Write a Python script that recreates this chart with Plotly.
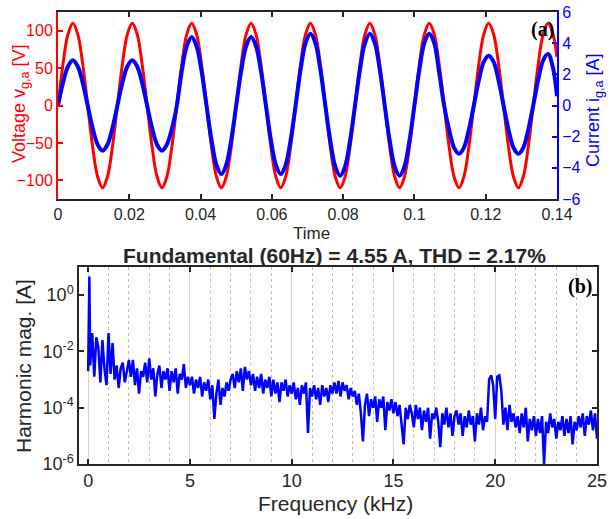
import plotly.graph_objects as go

# ---------------- panel (a): grid voltage and current vs time ----------------
# samples every 1/720 s (30 deg of the 60 Hz cycle), last sample at 0.14 s
time_s = [i / 720 for i in range(101)] + [0.14]

voltage_v = [
    0, 55, 95, 110, 95, 55, 0, -55, -95, -110, -95, -55,
    0, 55, 95, 110, 95, 55, 0, -55, -95, -110, -95, -55,
    0, 55, 95, 110, 95, 55, 0, -55, -95, -110, -95, -55,
    0, 55, 95, 110, 95, 55, 0, -55, -95, -110, -95, -55,
    0, 55, 95, 110, 95, 55, 0, -55, -95, -110, -95, -55,
    0, 55, 95, 110, 95, 55, 0, -55, -95, -110, -95, -55,
    0, 55, 95, 110, 95, 55, 0, -55, -95, -110, -95, -55,
    0, 55, 95, 110, 95, 55, 0, -55, -95, -110, -95, -55,
    0, 55, 95, 110, 95, 65,
]

current_a = [
    0, 1.45, 2.5, 2.9, 2.5, 1.45, 0, -1.45, -2.5, -2.9, -2.5, -1.45,
    0, 1.45, 2.5, 2.9, 2.5, 1.45, 0, -1.45, -2.5, -2.9, -2.5, -1.5,
    0, 2.2, 3.8, 4.4, 3.8, 2.2, 0, -2.2, -3.8, -4.4, -3.8, -2.2,
    0, 2.2, 3.8, 4.4, 3.8, 2.2, 0, -2.2, -3.8, -4.4, -3.8, -2.2,
    0, 2.3, 4.0, 4.6, 4.0, 2.3, 0, -2.25, -3.9, -4.5, -3.9, -2.25,
    0, 2.3, 4.0, 4.6, 4.0, 2.3, 0, -2.25, -3.9, -4.5, -3.9, -2.25,
    0, 2.3, 4.0, 4.6, 4.0, 2.1, 0, -1.55, -2.7, -3.1, -2.7, -1.55,
    0, 1.6, 2.8, 3.2, 2.8, 1.6, 0, -1.55, -2.7, -3.1, -2.7, -1.55,
    0, 1.65, 2.9, 3.3, 2.4, 0.6,
]

time_ticks = [0, 0.02, 0.04, 0.06, 0.08, 0.1, 0.12, 0.14]
time_ticktext = ["0", "0.02", "0.04", "0.06", "0.08", "0.1", "0.12", "0.14"]
voltage_ticks = [-100, -50, 0, 50, 100]
current_ticks = [-6, -4, -2, 0, 2, 4, 6]

# ---------------- panel (b): harmonic spectrum ----------------
freq_khz = [0.0, 0.06] + [round(0.1 * i, 1) for i in range(1, 251)]
mag_log10 = [-2.7, 0.66] + [
    # 0.1 - 1.0 kHz
    -2.5, -1.35, -2.9, -1.5, -1.85, -3.1, -1.6, -2.6, -3.2, -1.35,
    # 1.1 - 2.0
    -2.8, -1.7, -3.0, -2.5, -3.3, -2.6, -2.4, -3.1, -2.7, -2.3,
    # 2.1 - 3.0
    -2.9, -2.3, -3.2, -2.6, -3.5, -2.7, -2.9, -2.4, -3.1, -2.25,
    # 3.1 - 4.0
    -3.0, -2.6, -3.6, -2.8, -2.5, -3.3, -2.7, -3.0, -2.6, -3.4,
    # 4.1 - 5.0
    -2.7, -3.1, -2.6, -3.5, -2.8, -3.0, -2.45, -3.3, -2.9, -3.2,
    # 5.1 - 6.0
    -2.9, -3.5, -3.0, -3.3, -2.9, -3.6, -3.1, -3.4, -3.0, -3.7,
    # 6.1 - 7.0
    -3.2, -4.4, -3.5, -3.0, -3.9, -3.3, -3.6, -3.1, -3.4, -3.0,
    # 7.1 - 8.0
    -2.8, -3.3, -2.7, -3.1, -2.6, -3.4, -2.55, -3.0, -2.7, -3.2,
    # 8.1 - 9.0
    -2.8, -3.4, -2.9, -3.3, -2.8, -3.5, -3.0, -3.3, -2.9, -3.6,
    # 9.1 - 10.0
    -3.0, -3.5, -3.1, -3.8, -3.1, -3.4, -3.0, -3.6, -3.2, -3.5,
    # 10.1 - 11.0
    -3.1, -3.7, -3.3, -3.9, -3.2, -3.5, -3.1, -4.9, -3.3, -3.6,
    # 11.1 - 12.0
    -3.2, -3.7, -3.3, -3.9, -3.2, -3.6, -3.3, -3.8, -3.2, -3.5,
    # 12.1 - 13.0
    -3.1, -3.5, -3.05, -3.6, -3.1, -3.4, -3.2, -3.7, -3.3, -3.6,
    # 13.1 - 14.0
    -3.4, -3.9, -3.5, -4.2, -5.2, -3.9, -3.5, -4.3, -3.7, -4.0,
    # 14.1 - 15.0
    -3.6, -4.5, -3.7, -4.0, -3.6, -4.8, -3.8, -4.1, -3.7, -4.2,
    # 15.1 - 16.0
    -3.8, -4.3, -3.9, -4.6, -5.3, -4.0, -4.4, -3.9, -4.2, -4.7,
    # 16.1 - 17.0
    -3.9, -4.4, -4.0, -4.8, -4.1, -4.5, -4.0, -5.1, -4.2, -4.4,
    # 17.1 - 18.0
    -4.0, -4.5, -5.4, -4.2, -4.6, -4.0, -4.7, -4.2, -5.0, -4.3,
    # 18.1 - 19.0
    -4.1, -4.6, -4.2, -5.0, -4.3, -4.7, -4.1, -4.6, -4.3, -5.2,
    # 19.1 - 20.0
    -4.2, -4.6, -4.0, -4.8, -4.3, -4.5, -3.0, -2.85, -3.2, -4.4,
    # 20.1 - 21.0
    -2.9, -2.85, -3.4, -4.6, -4.0, -4.8, -3.9, -4.5, -4.2, -4.7,
    # 21.1 - 22.0
    -4.3, -4.9, -4.2, -4.7, -4.0, -5.2, -4.4, -4.8, -4.3, -5.0,
    # 22.1 - 23.0
    -4.4, -4.9, -4.3, -6.0, -4.5, -4.9, -4.2, -4.7, -4.4, -5.1,
    # 23.1 - 24.0
    -4.5, -4.8, -4.3, -5.0, -4.4, -4.9, -4.3, -5.3, -4.5, -4.8,
    # 24.1 - 25.0
    -4.3, -4.7, -4.2, -5.0, -4.3, -4.6, -4.1, -4.8, -4.2, -5.1,
]
mag_a = [10 ** v for v in mag_log10]

freq_ticks = [0, 5, 10, 15, 20, 25]
mag_ticks = [1e-6, 1e-4, 1e-2, 1]
mag_ticktext = ["10<sup>-6</sup>", "10<sup>-4</sup>", "10<sup>-2</sup>", "10<sup>0</sup>"]

title_b = "Fundamental (60Hz) = 4.55 A, THD = 2.17%"

# ---------------- figure ----------------
W, H = 610, 519
RED = "#ff0000"
BLUE = "#0000ff"
TXT = "#262626"
FONT = "Liberation Sans, Arial, sans-serif"
SERIF = "Liberation Serif, Times New Roman, serif"


def px(x):
    return x / W


def py(y):
    return (H - y) / H


fig = go.Figure()
fig.add_trace(go.Scatter(x=time_s, y=voltage_v, mode="lines",
                         line=dict(color=RED, width=3, shape="spline", smoothing=1.0),
                         xaxis="x", yaxis="y", hoverinfo="skip"))
fig.add_trace(go.Scatter(x=time_s, y=current_a, mode="lines",
                         line=dict(color=BLUE, width=4, shape="spline", smoothing=1.0),
                         xaxis="x", yaxis="y2", hoverinfo="skip"))
fig.add_trace(go.Scatter(x=freq_khz, y=mag_a, mode="lines",
                         line=dict(color=BLUE, width=2.5),
                         xaxis="x2", yaxis="y3", hoverinfo="skip"))

common = dict(automargin=False, showgrid=False, zeroline=False,
              ticks="inside", ticklen=5, tickwidth=1.5, showline=True)

fig.update_layout(
    width=W, height=H,
    margin=dict(l=0, r=0, t=0, b=0, pad=0, autoexpand=False),
    paper_bgcolor="white", plot_bgcolor="white",
    showlegend=False,
    font=dict(family=FONT, color=TXT),
    xaxis=dict(common, domain=[px(58), px(557)], anchor="y", range=[0, 0.14],
               tickvals=time_ticks, ticktext=time_ticktext,
               tickcolor=TXT, linecolor=TXT, linewidth=1.5, mirror="ticks",
               tickfont=dict(size=16, color=TXT)),
    yaxis=dict(common, domain=[py(199), py(12)], anchor="x", range=[-125, 125],
               tickvals=voltage_ticks, tickcolor=RED, linecolor=RED, linewidth=2,
               tickfont=dict(size=16, color=RED)),
    yaxis2=dict(common, overlaying="y", side="right", anchor="x", range=[-6, 6],
                tickvals=current_ticks, tickcolor=BLUE, linecolor=BLUE, linewidth=2,
                tickfont=dict(size=16, color=BLUE)),
    xaxis2=dict(common, domain=[px(79), px(597)], anchor="y3", range=[-0.45, 25],
                tickvals=freq_ticks, tickcolor=TXT, linecolor=TXT, linewidth=1.5,
                mirror="ticks",
                tickfont=dict(size=18, color=TXT)),
    yaxis3=dict(common, domain=[py(464), py(267)], anchor="x2", type="log", range=[-6, 1],
                tickvals=mag_ticks, ticktext=mag_ticktext,
                tickcolor=TXT, linecolor=TXT, linewidth=1.5, mirror="ticks",
                tickfont=dict(size=18, color=TXT)),
)
fig.update_xaxes(selector=dict(anchor="y3"), showgrid=True, gridcolor="#d4d4d4", gridwidth=1,
                 minor=dict(tick0=0, dtick=1, showgrid=True, griddash="dot",
                            gridcolor="#bdbdbd", gridwidth=1))

annotations = [
    dict(text="Voltage v<sub>g,a</sub> [V]", x=px(20), y=py(104), textangle=-90,
         font=dict(size=18, color=RED)),
    dict(text="Current i<sub>g,a</sub> [A]", x=px(594), y=py(110), textangle=-90,
         font=dict(size=18, color=BLUE)),
    dict(text="Time", x=px(311), y=py(233), font=dict(size=17, color=TXT)),
    dict(text="<b>" + title_b + "</b>", x=px(334), y=py(255), font=dict(size=21, color=TXT)),
    dict(text="Frequency (kHz)", x=px(335), y=py(503), font=dict(size=21, color=TXT)),
    dict(text="Harmonic mag. [A]", x=px(23), y=py(366), textangle=-90,
         font=dict(size=21, color=TXT)),
]
for a in annotations:
    a.update(xref="paper", yref="paper", showarrow=False, xanchor="center", yanchor="middle")
annotations += [
    dict(text="<b>(a)</b>", x=px(556), y=py(30), xref="paper", yref="paper", showarrow=False,
         xanchor="right", yanchor="middle",
         font=dict(size=20, color="black", family=SERIF)),
    dict(text="<b>(b)</b>", x=px(594), y=py(287), xref="paper", yref="paper", showarrow=False,
         xanchor="right", yanchor="middle",
         font=dict(size=20, color="black", family=SERIF)),
]
fig.update_layout(annotations=annotations)

fig.write_html("out.html", config=dict(displayModeBar=False),
               post_script="document.body.style.margin='0px';document.body.style.overflow='hidden';")
